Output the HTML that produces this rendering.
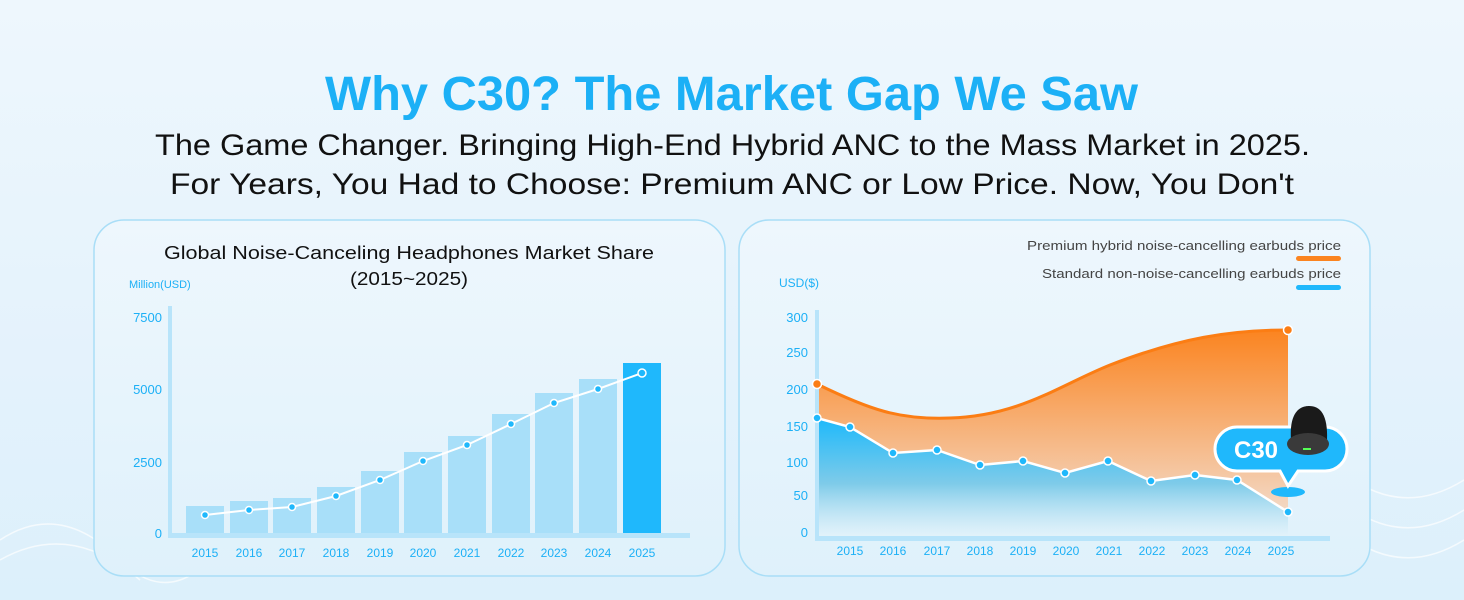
<!DOCTYPE html>
<html><head><meta charset="utf-8"><style>
body{margin:0;width:1464px;height:600px;overflow:hidden;background:linear-gradient(180deg,#eef7fd 0%,#e4f2fc 60%,#dcf0fb 100%);font-family:"Liberation Sans",sans-serif;}
</style></head><body>
<svg width="1464" height="600" viewBox="0 0 1464 600" xmlns="http://www.w3.org/2000/svg" style="position:absolute;left:0;top:0">
<defs>
<linearGradient id="og" x1="0" y1="0" x2="0" y2="1"><stop offset="0" stop-color="#fb8420"/><stop offset="1" stop-color="#f3d9c6"/></linearGradient>
<linearGradient id="bg2" x1="0" y1="0" x2="0" y2="1"><stop offset="0" stop-color="#1db9fb"/><stop offset="0.55" stop-color="#7fcbe9"/><stop offset="1" stop-color="#e6f4fb" stop-opacity="0.6"/></linearGradient>
<linearGradient id="pan" x1="0" y1="0" x2="0" y2="1"><stop offset="0" stop-color="#eef7fd"/><stop offset="1" stop-color="#dff1fb"/></linearGradient>
</defs>
<g fill="none" stroke="#ffffff" stroke-width="1.5" opacity="0.7">
<path d="M0 540 Q60 500 120 560 T240 520"/><path d="M0 560 Q70 520 140 580"/><path d="M1340 470 Q1400 520 1464 480"/><path d="M1340 500 Q1400 550 1464 510"/><path d="M1340 530 Q1400 580 1464 540"/>
</g>
<text x="325" y="110" textLength="813" lengthAdjust="spacingAndGlyphs" font-size="48" font-weight="bold" fill="#1cb0f6">Why C30? The Market Gap We Saw</text>
<text x="155" y="155" textLength="1155" lengthAdjust="spacingAndGlyphs" font-size="30" fill="#111">The Game Changer. Bringing High-End Hybrid ANC to the Mass Market in 2025.</text>
<text x="170" y="194" textLength="1124" lengthAdjust="spacingAndGlyphs" font-size="30" fill="#111">For Years, You Had to Choose: Premium ANC or Low Price. Now, You Don't</text>

<!-- left panel -->
<rect x="94" y="220" width="631" height="356" rx="30" fill="url(#pan)" stroke="#a9def7" stroke-width="1.5"/>
<text x="164" y="259" textLength="490" lengthAdjust="spacingAndGlyphs" font-size="18" fill="#111">Global Noise-Canceling Headphones Market Share</text>
<text x="350" y="285" textLength="118" lengthAdjust="spacingAndGlyphs" font-size="18" fill="#111">(2015~2025)</text>
<text x="129" y="288" font-size="11" fill="#1cb0f6">Million(USD)</text>
<g font-size="13" fill="#1cb0f6" text-anchor="end">
<text x="162" y="322">7500</text><text x="162" y="394">5000</text><text x="162" y="467">2500</text><text x="162" y="538">0</text></g>
<rect x="168" y="306" width="4" height="231" fill="#b8e4fa"/>
<rect x="168" y="533" width="522" height="5" fill="#b8e4fa"/>
<g fill="#a8dff9">
<rect x="186" y="506" width="38" height="27"/><rect x="230" y="501" width="38" height="32"/><rect x="273" y="498" width="38" height="35"/><rect x="317" y="487" width="38" height="46"/><rect x="361" y="471" width="38" height="62"/><rect x="404" y="452" width="38" height="81"/><rect x="448" y="436" width="38" height="97"/><rect x="492" y="414" width="38" height="119"/><rect x="535" y="393" width="38" height="140"/><rect x="579" y="379" width="38" height="154"/></g>
<rect x="623" y="363" width="38" height="170" fill="#1fb8fc"/>
<polyline points="205,515 249,510 292,507 336,496 380,480 423,461 467,445 511,424 554,403 598,389 642,373" fill="none" stroke="#fff" stroke-width="2"/>
<g fill="#1fb8fc" stroke="#fff" stroke-width="1.5">
<circle cx="205" cy="515" r="3.5"/><circle cx="249" cy="510" r="3.5"/><circle cx="292" cy="507" r="3.5"/><circle cx="336" cy="496" r="3.5"/><circle cx="380" cy="480" r="3.5"/><circle cx="423" cy="461" r="3.5"/><circle cx="467" cy="445" r="3.5"/><circle cx="511" cy="424" r="3.5"/><circle cx="554" cy="403" r="3.5"/><circle cx="598" cy="389" r="3.5"/><circle cx="642" cy="373" r="4"/></g>
<g font-size="12" fill="#1cb0f6" text-anchor="middle">
<text x="205" y="557">2015</text><text x="249" y="557">2016</text><text x="292" y="557">2017</text><text x="336" y="557">2018</text><text x="380" y="557">2019</text><text x="423" y="557">2020</text><text x="467" y="557">2021</text><text x="511" y="557">2022</text><text x="554" y="557">2023</text><text x="598" y="557">2024</text><text x="642" y="557">2025</text></g>

<!-- right panel -->
<rect x="739" y="220" width="631" height="356" rx="30" fill="url(#pan)" stroke="#a9def7" stroke-width="1.5"/>
<text x="1027" y="250" textLength="314" lengthAdjust="spacingAndGlyphs" font-size="13" fill="#444">Premium hybrid noise-cancelling earbuds price</text>
<rect x="1296" y="256" width="45" height="5" rx="2.5" fill="#fb8420"/>
<text x="1042" y="278" textLength="299" lengthAdjust="spacingAndGlyphs" font-size="13" fill="#444">Standard non-noise-cancelling earbuds price</text>
<rect x="1296" y="285" width="45" height="5" rx="2.5" fill="#1fb8fc"/>
<text x="779" y="287" font-size="12" fill="#1cb0f6">USD($)</text>
<g font-size="13" fill="#1cb0f6" text-anchor="end">
<text x="808" y="322">300</text><text x="808" y="357">250</text><text x="808" y="394">200</text><text x="808" y="431">150</text><text x="808" y="467">100</text><text x="808" y="500">50</text><text x="808" y="537">0</text></g>
<path d="M817 384 C870 410 900 420 950 418 C1020 416 1060 385 1110 365 C1180 338 1230 330 1288 330 L1288 512 L1237 480 L1195 475 L1151 481 L1108 461 L1065 473 L1023 461 L980 465 L937 450 L893 453 L850 427 L817 418 Z" fill="url(#og)"/>
<path d="M817 384 C870 410 900 420 950 418 C1020 416 1060 385 1110 365 C1180 338 1230 330 1288 330" fill="none" stroke="#fb7d14" stroke-width="3"/>
<path d="M817 418 L850 427 L893 453 L937 450 L980 465 L1023 461 L1065 473 L1108 461 L1151 481 L1195 475 L1237 480 L1288 512 L1288 538 L817 538 Z" fill="url(#bg2)"/>
<polyline points="817,418 850,427 893,453 937,450 980,465 1023,461 1065,473 1108,461 1151,481 1195,475 1237,480 1288,512" fill="none" stroke="#fff" stroke-width="2.5"/>
<rect x="815" y="310" width="4" height="230" fill="#b8e4fa"/>
<rect x="815" y="536" width="515" height="5" fill="#b8e4fa"/>
<g fill="#1fb8fc" stroke="#fff" stroke-width="1.5">
<circle cx="817" cy="418" r="4"/><circle cx="850" cy="427" r="4"/><circle cx="893" cy="453" r="4"/><circle cx="937" cy="450" r="4"/><circle cx="980" cy="465" r="4"/><circle cx="1023" cy="461" r="4"/><circle cx="1065" cy="473" r="4"/><circle cx="1108" cy="461" r="4"/><circle cx="1151" cy="481" r="4"/><circle cx="1195" cy="475" r="4"/><circle cx="1237" cy="480" r="4"/><circle cx="1288" cy="512" r="4"/></g>
<g fill="#fb7d14" stroke="#fff" stroke-width="1.5"><circle cx="817" cy="384" r="4.5"/><circle cx="1288" cy="330" r="4.5"/></g>
<g font-size="12" fill="#1cb0f6" text-anchor="middle">
<text x="850" y="555">2015</text><text x="893" y="555">2016</text><text x="937" y="555">2017</text><text x="980" y="555">2018</text><text x="1023" y="555">2019</text><text x="1066" y="555">2020</text><text x="1109" y="555">2021</text><text x="1152" y="555">2022</text><text x="1195" y="555">2023</text><text x="1238" y="555">2024</text><text x="1281" y="555">2025</text></g>
<!-- C30 bubble -->
<ellipse cx="1288" cy="492" rx="17" ry="5" fill="#1fb8fc"/>
<path d="M1237 427 H1325 A22 22 0 0 1 1325 471 H1298 L1288 486 L1280 471 H1237 A22 22 0 0 1 1237 427 Z" fill="#1fb8fc" stroke="#fff" stroke-width="3"/>
<text x="1256" y="458" text-anchor="middle" font-size="24" font-weight="bold" fill="#fff">C30</text>
<path d="M1291 440 C1289 412 1300 406 1309 406 C1320 406 1328 414 1327 440 Z" fill="#1a1a1a"/>
<ellipse cx="1308" cy="444" rx="21" ry="11" fill="#3a3a3a"/>
<rect x="1303" y="448" width="8" height="2" fill="#5f5"/>
</svg>
</body></html>
